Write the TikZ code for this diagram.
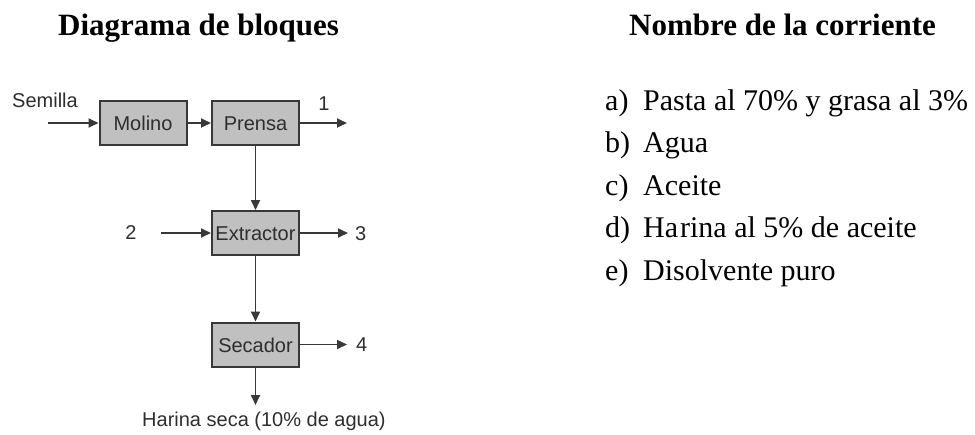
\documentclass[tikz,border=0pt]{standalone}
\usepackage{fontspec}
\setmainfont{Liberation Serif}
\setsansfont{Liberation Sans}
\usetikzlibrary{arrows.meta}
\definecolor{boxfill}{HTML}{C0C0C0}
\definecolor{boxline}{HTML}{383838}
\definecolor{sanstext}{HTML}{2E2E2E}
\begin{document}
\begin{tikzpicture}[x=1pt,y=-1pt,
  blk/.style={draw=boxline, fill=boxfill, line width=2pt, minimum width=87pt, minimum height=44pt, inner sep=0pt,
    text height=15pt, text depth=0pt,
    font=\sffamily\fontsize{20}{23}\selectfont, text=sanstext},
  lbl/.style={font=\sffamily\fontsize{20}{23}\selectfont, text=sanstext, inner sep=0pt},
  flow/.style={draw=boxline, line width=1.8pt, -{Triangle[length=10pt,width=9pt]}},
  ttl/.style={font=\bfseries\fontsize{31}{36}\selectfont, anchor=base west, inner sep=0pt},
  itm/.style={font=\fontsize{30}{34}\selectfont, anchor=base west, inner sep=0pt}]
\useasboundingbox (0,0) rectangle (975,434);
% titles
\node[ttl] (t1) at (58,35) {Diagrama de bloques};
\node[ttl] (t2) at (629,35) {Nombre de la corriente};
% blocks
\node[blk] (mol) at (143,123) {Molino};
\node[blk] (pre) at (255.5,123) {Prensa};
\node[blk] (ext) at (255.5,233) {Extractor};
\node[blk] (sec) at (255.5,344.5) {Secador};
% labels
\node[lbl] (sem) at (45,100) {Semilla};
\node[lbl] (s1) at (324,104) {1};
\node[lbl] (s2) at (131,233) {2};
\node[lbl, anchor=west] (s3) at (355,234) {3};
\node[lbl, anchor=west] (s4) at (356,345) {4};
\node[lbl, anchor=west] (har) at (142,421) {Harina seca (10\% de agua)};
% free ends
\coordinate (c0) at (48,123);
\coordinate (c1) at (347,123);
\coordinate (c2) at (161,233);
\coordinate (c3) at (348,233);
\coordinate (c4) at (347,344.5);
\coordinate (c5) at (255.5,405);
% flows
\draw[flow] (c0) -- (mol.west);
\draw[flow] (mol.east) -- (pre.west);
\draw[flow] (pre.east) -- (c1);
\draw[flow] (pre.south) -- (ext.north);
\draw[flow] (c2) -- (ext.west);
\draw[flow] (ext.east) -- (c3);
\draw[flow] (ext.south) -- (sec.north);
\draw[flow] (sec.east) -- (c4);
\draw[flow] (sec.south) -- (c5);
% list
\node[itm] (la) at (605,110) {a)};
\node[itm] (ta) at (643,110) {Pasta al 70\% y grasa al 3\%};
\node[itm] (lb) at (605,152.5) {b)};
\node[itm] (tb) at (643,152.5) {Agua};
\node[itm] (lc) at (605,195) {c)};
\node[itm] (tc) at (643,195) {Aceite};
\node[itm] (ld) at (605,237.5) {d)};
\node[itm] (td) at (643,237.5) {Ha\kern2pt rina al 5\% de aceite};
\node[itm] (le) at (605,280) {e)};
\node[itm] (te) at (643,280) {Disolvente puro};
\end{tikzpicture}
\end{document}
